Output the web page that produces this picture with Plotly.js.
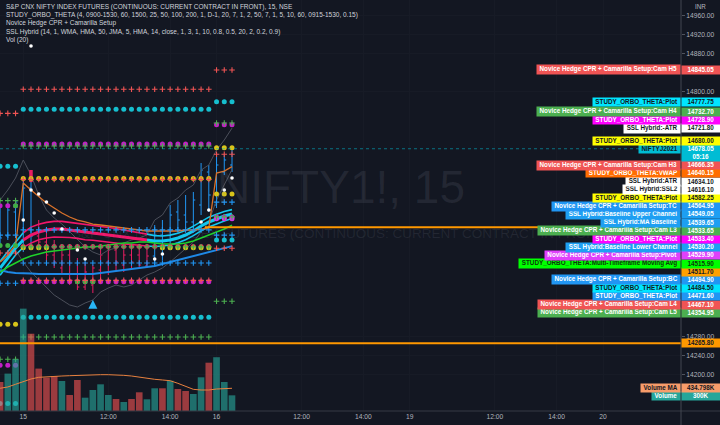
<!DOCTYPE html>
<html><head><meta charset="utf-8">
<script src="https://cdn.plot.ly/plotly-3.0.1.min.js"></script>
<style>html,body{margin:0;padding:0;background:#131722;}#chart{width:720px;height:425px;}</style>
</head><body><div id="chart"></div>
<script>
// ---------- data ----------
const bars = [-3,-2,-1,0,1,2,3,4,5,6,7,8,9,10,11,12,13,14,15,16,17,18,19,20,21,22,23,24,25,26,27];
const tickBars = [0,11,19,25,36,44,50,61,69,75];
const tickText = ['15','12:00','14:00','16','12:00','14:00','19','12:00','14:00','20'];
const priceTicks = [14160,14200,14240,14280,14320,14360,14400,14440,14480,14520,14560,14600,14640,14680,14720,14760,14800,14840,14880,14920,14960];

const openP  = [14544.0,14493.1,14544.0,14484.6,14594.8,14493.1,14480.4,14452.8,14425.3,14452.8,14399.8,14385.0,14389.2,14421.0,14438.0,14463.4,14431.6,14452.8,14452.8,14429.5,14450.7,14495.2,14474.0,14544.0,14537.6,14522.8,14558.8,14628.7,14558.8,14628.7,14643.6];
const highP  = [14558.8,14563.0,14573.6,14616.0,14607.6,14527.0,14501.6,14484.6,14474.0,14463.4,14446.5,14438.0,14431.6,14467.7,14474.0,14478.3,14463.4,14474.0,14476.1,14467.7,14516.4,14527.0,14558.8,14569.4,14580.0,14586.4,14647.8,14643.6,14669.0,14664.8,14682.5];
const lowP   = [14467.7,14484.6,14501.6,14459.2,14471.9,14463.4,14438.0,14425.3,14410.4,14389.2,14378.6,14378.6,14372.3,14395.6,14410.4,14421.0,14416.8,14421.0,14425.3,14425.3,14431.6,14442.2,14463.4,14501.6,14510.1,14510.1,14537.6,14544.0,14552.4,14622.4,14628.7];
const closeP = [14488.9,14548.2,14565.2,14594.8,14493.1,14480.4,14452.8,14438.0,14452.8,14399.8,14385.0,14416.8,14425.3,14452.8,14463.4,14438.0,14452.8,14438.0,14431.6,14450.7,14495.2,14474.0,14537.6,14527.0,14522.8,14569.4,14633.0,14580.0,14643.6,14654.2,14678.05];
// SSL Hybrid bar colouring (1 = blue, -1 = pink)
const barTrend = [1,1,1,1,1,-1,-1,-1,-1,-1,-1,-1,-1,-1,-1,-1,-1,-1,-1,-1,1,1,1,1,1,1,1,1,1,1,1];

const volume = [555e3,716e3,990e3,1960e3,1480e3,812e3,640e3,670e3,574e3,306e3,594e3,255e3,402e3,511e3,306e3,230e3,172e3,230e3,358e3,224e3,435e3,435e3,580e3,421e3,383e3,326e3,645e3,925e3,1030e3,555e3,300e3];
const volumeMA = [435e3,460e3,511e3,561e3,613e3,645e3,657e3,664e3,670e3,676e3,683e3,689e3,689e3,695e3,695e3,695e3,683e3,670e3,645e3,626e3,607e3,594e3,580e3,530e3,465e3,415e3,402e3,402e3,421e3,435e3,434.798e3];

// SSL Hybrid
const sslBaseline = [14425.3,14446.5,14467.7,14484.6,14495.2,14501.6,14505.8,14507.9,14507.9,14505.8,14503.7,14501.6,14499.5,14497.3,14495.2,14493.1,14491.0,14488.9,14486.7,14484.6,14482.5,14482.5,14484.6,14488.9,14495.2,14503.7,14514.3,14522.8,14529.1,14535.5,14539.65];
const sslUpper = [14440,14460,14482,14500,14512,14518,14522,14524,14524,14522,14520,14518,14515,14513,14511,14509,14506,14503,14500,14497,14494,14493,14495,14499,14505,14514,14524,14533,14539,14545,14549.05];
const sslLower = [14410,14432,14453,14469,14478,14485,14489,14491,14491,14490,14488,14485,14484,14482,14479,14477,14476,14475,14473,14472,14471,14472,14474,14479,14485,14494,14504,14512,14519,14525,14530.20];
const sslTrend = [1,1,1,1,-1,-1,-1,-1,-1,-1,-1,-1,-1,-1,-1,-1,-1,-1,-1,1,1,1,1,1,1,1,1,1,1,1,1];
const atrUpper = [14569.4,14590.6,14616.0,14654.2,14622.4,14580.0,14548.2,14531.2,14518.5,14501.6,14484.6,14469.8,14459.2,14452.8,14463.4,14467.7,14478.3,14484.6,14488.9,14495.2,14527.0,14537.6,14563.0,14573.6,14590.6,14601.2,14633.0,14643.6,14675.4,14696.6,14721.8];
const atrLower = [14438.0,14446.5,14463.4,14438.0,14416.8,14399.8,14382.9,14368.0,14357.4,14346.9,14342.6,14351.1,14357.4,14374.4,14382.9,14389.2,14385.0,14389.2,14399.8,14410.4,14416.8,14425.3,14438.0,14452.8,14467.7,14480.4,14501.6,14522.8,14569.4,14601.2,14634.1];
const ssl2Bars = [0,1,2,3,4,5,7,8,17,18,23,24,26,27];
const ssl2Vals = [14527.0,14590.6,14582.1,14565.2,14541.8,14507.9,14463.4,14444.3,14444.3,14454.9,14522.8,14548.2,14590.6,14616.10];
const sslExtraDotBars = [1];
const sslExtraDotVals = [14895.8];
const exitBars = [1];
const exitTop = [14633.0];
const exitBottom = [14607.6];
const buyArrowBars = [9];
const buyArrowVals = [14358.0];

// ORBO lines
const orboBlueLine = [14421.0,14416.8,14414.7,14414.7,14413.6,14412.6,14412.6,14412.6,14412.6,14412.6,14412.6,14412.6,14412.6,14414.7,14416.8,14418.9,14421.0,14423.1,14425.3,14427.4,14429.5,14433.7,14438.0,14442.2,14446.5,14450.7,14454.9,14459.2,14463.4,14467.7,14471.6];
const mtfMA = [14416.8,14427.4,14435.9,14444.3,14450.7,14454.9,14459.2,14461.3,14463.4,14465.5,14467.7,14469.8,14469.8,14471.9,14474.0,14476.1,14478.3,14478.3,14480.4,14480.4,14478.3,14476.1,14476.1,14476.1,14478.3,14482.5,14488.9,14495.2,14501.6,14507.9,14515.9];
const vwap = [14438.0,14452.8,14474.0,14605.4,14590.6,14575.8,14563.0,14552.4,14541.8,14533.4,14527.0,14522.8,14518.5,14516.4,14514.3,14512.2,14510.1,14507.9,14505.8,14503.7,14503.7,14503.7,14503.7,14503.7,14505.8,14505.8,14507.9,14510.1,14626.6,14630.8,14640.15];

// daily levels: [previous day, 15th, 16th]
const dayFirst = [-3, 0, 25];
const dayLast  = [-1, 24, 27];
const camH5 = [14753, 14804, 14845.05];
const camH4 = [14568, 14684, 14732.70];
const camH3 = [14457, 14613, 14666.35];
const camL3 = [null, 14470, 14533.65];
const camL4 = [null, 14399, 14467.10];
const camL5 = [14232, 14279, 14354.95];
const cprTC = [14495, 14506, 14564.95];
const cprBC = [14393, 14436, 14494.90];
const cprPivot = [null, 14471, 14529.90];
const orboCyanHi = [14641, 14762, 14777.75];
const orboMagHi  = [14557, 14688, 14728.90];
const orboYelHi  = [14473, 14615, 14680.00];
const orboYelLo  = [14306, null, 14582.25];
const orboMagLo  = [14219, 14396, 14533.40];
const orboCyanLo = [14138, 14321, 14484.50];
const yelLoBars15 = [0,1,2,3,18,19,20,21,22,23,24];
const yelLoVal15 = 14468;
const greenDotBars = [-1,7,8,9];
const greenDotVals = [14557,14396,14396,14396];
const orangeRayStart = 23.5;
const orangeRay = 14511.70;
const orangeLevel = 14265.80;
const lastPrice = 14678.05;

// price-scale labels
const labelNames = ["Novice Hedge CPR + Camarilla Setup:Cam H5","STUDY_ORBO_THETA:Plot","Novice Hedge CPR + Camarilla Setup:Cam H4","STUDY_ORBO_THETA:Plot","SSL Hybrid:-ATR","STUDY_ORBO_THETA:Plot","Novice Hedge CPR + Camarilla Setup:Cam H3","STUDY_ORBO_THETA:VWAP","SSL Hybrid:ATR","SSL Hybrid:SSL2","STUDY_ORBO_THETA:Plot","Novice Hedge CPR + Camarilla Setup:TC","SSL Hybrid:Baseline Upper Channel","SSL Hybrid:MA Baseline","Novice Hedge CPR + Camarilla Setup:Cam L3","STUDY_ORBO_THETA:Plot","SSL Hybrid:Baseline Lower Channel","Novice Hedge CPR + Camarilla Setup:Pivot","STUDY_ORBO_THETA:Multi-Timeframe Moving Avg","","Novice Hedge CPR + Camarilla Setup:BC","STUDY_ORBO_THETA:Plot","STUDY_ORBO_THETA:Plot","Novice Hedge CPR + Camarilla Setup:Cam L4","Novice Hedge CPR + Camarilla Setup:Cam L5",""];
const labelValues = [14845.05,14777.75,14732.70,14728.90,14721.80,14680.00,14666.35,14640.15,14634.10,14616.10,14582.25,14564.95,14549.05,14539.65,14533.65,14533.40,14530.20,14529.90,14515.90,14511.70,14494.90,14484.50,14471.60,14467.10,14354.95,14265.80];
const labelBg = ['#f05454','#00e5ff','#4caf50','#ff00ff','#ffffff','#ffff00','#f05454','#ff6d00','#ffffff','#ffffff','#ffff00','#2196f3','#1e9ff2','#1e9ff2','#4caf50','#ff00ff','#1e9ff2','#e040fb','#00ff00','#ffa000','#2196f3','#00e5ff','#2196f3','#f05454','#4caf50','#ff9800'];
const labelFg = ['#fff','#131722','#fff','#fff','#131722','#131722','#fff','#fff','#131722','#131722','#131722','#fff','#fff','#fff','#fff','#fff','#fff','#fff','#0b3b0b','#131722','#fff','#131722','#fff','#fff','#fff','#131722'];
const lastName = 'NIFTYJ2021';
const lastCountdown = '05:16';
const volLabelNames = ['Volume MA','Volume'];
const volLabelValues = [434.798e3, 300e3];
const volLabelText = ['434.798K','300K'];
const volLabelBg = ['#f79c6a','#26a69a'];
const volLabelFg = ['#131722','#fff'];

// ---------- layout constants ----------
const W=720, H=425, M={l:0,r:39,t:0,b:14};
const plotW=W-M.l-M.r, plotH=H-M.t-M.b;
const Y0=14122.2, Y1=14993.3, X0=-3.01, X1=85.08, VMAX=7.87e6;
const FONT='"Liberation Sans", Arial, sans-serif';
const TXT='#b2b5be';

const traces=[];
// volume
traces.push({type:'bar',x:bars,y:volume,yaxis:'y2',width:0.86,
  marker:{color:bars.map((b,i)=>closeP[i]>=openP[i]?'rgba(38,166,154,0.62)':'rgba(239,83,80,0.62)'),line:{width:0}},hoverinfo:'skip'});
traces.push({type:'scatter',mode:'lines',x:bars,y:volumeMA,yaxis:'y2',line:{color:'#e8813f',width:1},hoverinfo:'skip'});
// ATR grey lines
traces.push({type:'scatter',mode:'lines',x:bars,y:atrUpper,line:{color:'#4b4f5a',width:1}});
traces.push({type:'scatter',mode:'lines',x:bars,y:atrLower,line:{color:'#4b4f5a',width:1}});
// SSL baseline and channels, coloured by trend
function seg(arr, want){
  return arr.map((v,i)=>{
    const t=sslTrend[i], tp=sslTrend[i-1], tn=sslTrend[i+1];
    if(want===-1) return (t===-1||tp===-1||tn===-1)?v:null;
    return (t===1)?v:null;
  });
}
[[sslUpper,1.6],[sslLower,1.6],[sslBaseline,3]].forEach(([arr,w])=>{
  traces.push({type:'scatter',mode:'lines',x:bars,y:seg(arr,1),line:{color:'#12c8f0',width:w},connectgaps:false});
  traces.push({type:'scatter',mode:'lines',x:bars,y:seg(arr,-1),line:{color:'#f0166a',width:w},connectgaps:false});
});
traces.push({type:'scatter',mode:'lines',x:bars,y:orboBlueLine,line:{color:'#1e88e5',width:2}});
traces.push({type:'scatter',mode:'lines',x:bars,y:mtfMA,line:{color:'#1fd12a',width:1.5}});
traces.push({type:'scatter',mode:'lines',x:bars,y:vwap,line:{color:'#d9722a',width:1.3}});

// candles (OHLC bars), split by SSL bar colour
[[1,'#2196f3'],[-1,'#e91e63']].forEach(([tr,col])=>{
  const idx=bars.map((b,i)=>i).filter(i=>barTrend[i]===tr);
  traces.push({type:'ohlc',x:idx.map(i=>bars[i]),open:idx.map(i=>openP[i]),high:idx.map(i=>highP[i]),
    low:idx.map(i=>lowP[i]),close:idx.map(i=>closeP[i]),tickwidth:0.25,
    increasing:{line:{color:col,width:1}},decreasing:{line:{color:col,width:1}},hoverinfo:'skip'});
});
traces.push({type:'scatter',mode:'lines',x:[exitBars[0],exitBars[0]],y:[exitBottom[0],exitTop[0]],line:{color:'#e91e63',width:3.5}});

// level dots / crosses
function levelPts(vals, colors){
  const x=[],y=[],c=[];
  for(let d=0;d<3;d++){ if(vals[d]==null) continue;
    for(let b=dayFirst[d];b<=dayLast[d];b++){x.push(b);y.push(vals[d]);c.push(Array.isArray(colors)?colors[d]:colors);} }
  return {x,y,c};
}
function dots(vals, colors, size){
  const p=levelPts(vals,colors);
  traces.push({type:'scatter',mode:'markers',x:p.x,y:p.y,marker:{symbol:'circle',size:size||5,color:p.c,line:{width:0}}});
}
function crosses(vals, colors){
  const p=levelPts(vals,colors);
  traces.push({type:'scatter',mode:'markers',x:p.x,y:p.y,marker:{symbol:'cross-thin',size:4,color:p.c,line:{width:1.1,color:p.c}}});
}
const cDotCy='#16bfcf', cDotMg='#c21fc6', cDotYl='#d8c41a', cDotPk='#e0245e', cDotGr='#3cb043';
const cRed='#f05454', cGrn='#4caf50', cBlu='#2196f3';
dots(orboCyanHi,cDotCy); dots(orboCyanLo,cDotCy);
dots(orboMagHi,cDotMg); dots(orboMagLo,cDotMg);
dots(orboYelHi,[cDotGr,cDotYl,cDotYl]);
dots(cprPivot,[cDotPk,cDotPk,'#d534e8']);
dots(orboYelLo,cDotYl);
traces.push({type:'scatter',mode:'markers',x:yelLoBars15,y:yelLoBars15.map(()=>yelLoVal15),marker:{size:5,color:cDotYl}});
traces.push({type:'scatter',mode:'markers',x:greenDotBars,y:greenDotVals,marker:{size:5,color:cDotGr}});
crosses(camH5,cRed); crosses(camH3,cRed); crosses(camL4,cRed);
crosses(camH4,cGrn); crosses(camL3,cGrn); crosses(camL5,cGrn);
crosses(cprTC,cBlu); crosses(cprBC,cBlu);
// SSL2 white dots, arrow
traces.push({type:'scatter',mode:'markers',x:ssl2Bars,y:ssl2Vals,marker:{size:3.6,color:'#ffffff'}});
traces.push({type:'scatter',mode:'markers',x:sslExtraDotBars,y:sslExtraDotVals,marker:{size:3.6,color:'#ffffff'}});
traces.push({type:'scatter',mode:'markers',x:buyArrowBars,y:buyArrowVals,marker:{symbol:'arrow-up',size:9,color:'#29b6f6'}});

// ---------- price-scale labels (stacked like TradingView) ----------
const pxOf = p => (Y1-p)/(Y1-Y0)*plotH;
const priceOf = px => Y1 - px/plotH*(Y1-Y0);
const ROW=8.2, LFS=6.3;
const cv=document.createElement('canvas').getContext('2d');
cv.font='bold '+LFS+'px "Liberation Sans"';
const tw = s => cv.measureText(s).width;
const labelAnn=[];
const occupied=[];   // pixel spans taken by value boxes on the price scale
function addLabel(name, valText, px, bg, fg, rows, nameFg){
  const yv=priceOf(px);
  const out=[];
  if(name){
    out.push({xref:'paper',yref:'y',x:1,y:yv,xanchor:'right',yanchor:'middle',showarrow:false,text:name,
      bgcolor:bg,borderpad:0.3,width:tw(name)+5,font:{family:FONT,size:LFS,color:nameFg||fg,weight:'bold'}});
  }
  const vy = rows===2 ? priceOf(px+ROW/2) : yv;
  out.push({xref:'paper',yref:'y',x:1,y:vy,xanchor:'left',yanchor:'middle',showarrow:false,text:valText,
    bgcolor:bg,borderpad:0.3,width:37,align:'center',font:{family:FONT,size:LFS,color:fg,weight:'bold'}});
  occupied.push([px-ROW/2, px-ROW/2+rows*ROW]);
  labelAnn.push({px, list:out});
}
const lastPx=pxOf(lastPrice);
const items=labelValues.map((v,i)=>({i,ideal:pxOf(v)}));
const above=items.filter(o=>o.ideal<lastPx).sort((a,b)=>b.ideal-a.ideal);
const below=items.filter(o=>o.ideal>=lastPx).sort((a,b)=>a.ideal-b.ideal);
let prev=lastPx;
above.forEach(o=>{o.pos=Math.min(o.ideal,prev-ROW);prev=o.pos;});
prev=lastPx+ROW;
below.forEach(o=>{o.pos=Math.max(o.ideal,prev+ROW);prev=o.pos;});
items.forEach(o=>addLabel(labelNames[o.i],labelValues[o.i].toFixed(2),o.pos,labelBg[o.i],labelFg[o.i],1));
addLabel(lastName,lastPrice.toFixed(2)+'<br>'+lastCountdown,lastPx,'#00bcd4','#ffffff',2,'#131722');
let vprev=-1e9;
volLabelValues.map((v,i)=>({i,ideal:plotH-v/VMAX*plotH})).sort((a,b)=>a.ideal-b.ideal).forEach(o=>{
  const p=Math.max(o.ideal,vprev+ROW); vprev=p;
  addLabel(volLabelNames[o.i],volLabelText[o.i],p,volLabelBg[o.i],volLabelFg[o.i],1);
});
labelAnn.sort((a,b)=>b.px-a.px);
// price-scale ticks that are not hidden under a label
const shownTicks=priceTicks.filter(t=>{const p=pxOf(t);return !occupied.some(([a,b])=>p>a-2.4&&p<b+2.4);});

const ann=[];
ann.push({xref:'paper',yref:'paper',x:0.5,y:1-187/plotH,xanchor:'center',yanchor:'middle',showarrow:false,
  text:'NIFTY1!, 15',font:{family:FONT,size:46,color:'rgba(150,155,170,0.13)'}});
ann.push({xref:'paper',yref:'paper',x:0.5,y:1-233/plotH,xanchor:'center',yanchor:'middle',showarrow:false,
  text:'S&amp;P CNX NIFTY INDEX FUTURES (CONTINUOUS: CURRENT CONTRACT IN FRONT)',font:{family:FONT,size:13.5,color:'rgba(150,155,170,0.13)'}});
const legendLines=['S&amp;P CNX NIFTY INDEX FUTURES (CONTINUOUS: CURRENT CONTRACT IN FRONT), 15, NSE',
 'STUDY_ORBO_THETA (4, 0900-1530, 60, 1500, 25, 50, 100, 200, 1, D-1, 20, 7, 1, 2, 50, 7, 1, 5, 10, 60, 0915-1530, 0.15)',
 'Novice Hedge CPR + Camarilla Setup',
 'SSL Hybrid (14, 1, WMA, HMA, 50, JMA, 5, HMA, 14, close, 1, 3, 1, 10, 0.8, 0.5, 20, 2, 0.2, 0.9)',
 'Vol (20)'];
legendLines.forEach((t,k)=>ann.push({xref:'paper',yref:'paper',x:0,xshift:4,y:1-(6.5+k*8.4)/plotH,xanchor:'left',yanchor:'middle',
  showarrow:false,text:t,font:{family:FONT,size:6.5,color:'#d1d4dc'}}));
labelAnn.forEach(g=>g.list.forEach(a=>ann.push(a)));
ann.push({xref:'paper',yref:'paper',x:1,xshift:19,y:1-6.7/plotH,xanchor:'center',yanchor:'middle',showarrow:false,
  text:'INR',font:{family:FONT,size:6.3,color:TXT}});

const shapes=[
  {type:'line',xref:'paper',yref:'y',x0:0,x1:1,y0:lastPrice,y1:lastPrice,line:{color:'rgba(0,188,212,0.55)',width:1,dash:'dot'}},
  {type:'line',xref:'paper',yref:'y',x0:0,x1:1,y0:orangeLevel,y1:orangeLevel,line:{color:'#ff9800',width:2}},
  {type:'line',xref:'x',yref:'y',x0:orangeRayStart,x1:X1+5,y0:orangeRay,y1:orangeRay,line:{color:'#ff9800',width:2}},
  {type:'line',xref:'paper',yref:'paper',x0:0,x1:W/plotW,y0:0,y1:0,line:{color:'#363a45',width:1}},
  {type:'line',xref:'paper',yref:'paper',x0:1,x1:1,y0:-M.b/plotH,y1:1,line:{color:'#434651',width:1}}
];

const layout={width:W,height:H,margin:M,paper_bgcolor:'#131722',plot_bgcolor:'#131722',showlegend:false,hovermode:false,
  xaxis:{range:[X0,X1],tickmode:'array',tickvals:tickBars,ticktext:tickText,showgrid:true,gridcolor:'#171b26',zeroline:false,
    ticks:'',tickfont:{family:FONT,size:6.7,color:TXT},rangeslider:{visible:false},showline:false,fixedrange:true},
  yaxis:{range:[Y0,Y1],side:'right',tickmode:'array',tickvals:shownTicks,ticktext:shownTicks.map(t=>t.toFixed(2)),showgrid:true,gridcolor:'#171b26',
    zeroline:false,ticks:'outside',ticklen:3,tickcolor:'#50535e',tickfont:{family:FONT,size:6.7,color:TXT},showline:false},
  yaxis2:{range:[0,VMAX],overlaying:'y',visible:false,showgrid:false},
  shapes:shapes,annotations:ann};
Plotly.newPlot('chart',traces,layout,{staticPlot:true,displayModeBar:false});
</script></body></html>
